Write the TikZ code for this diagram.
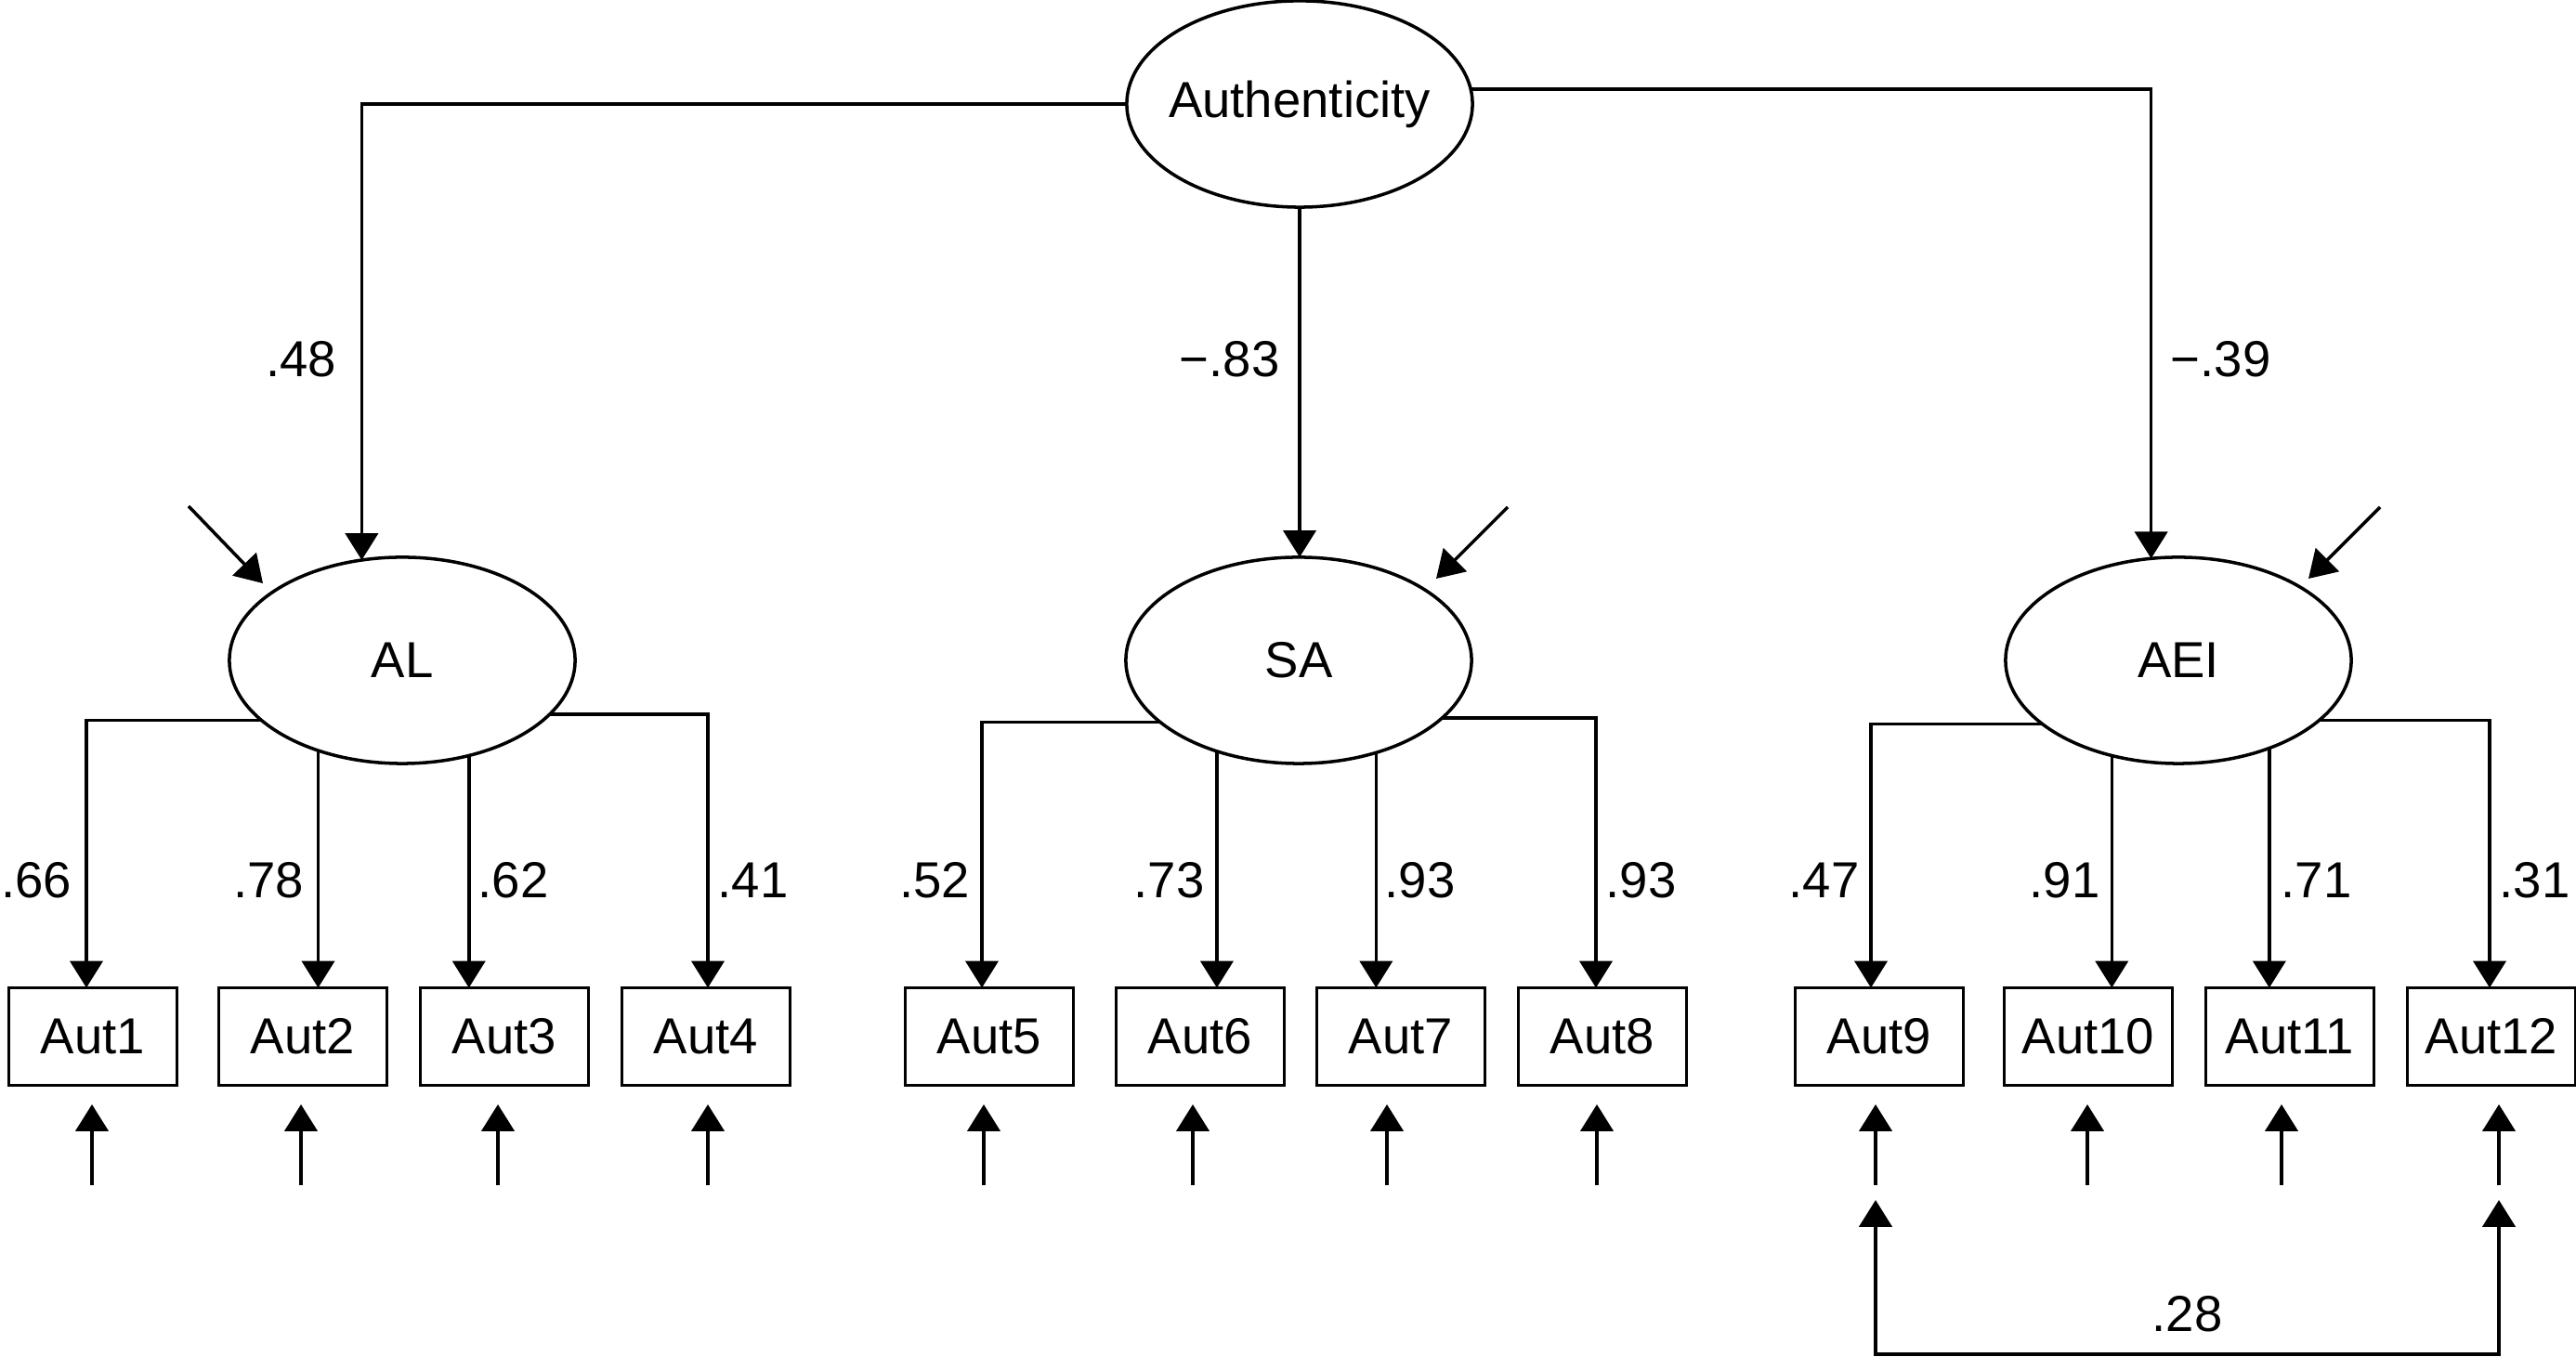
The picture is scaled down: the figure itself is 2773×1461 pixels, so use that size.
\documentclass[tikz,border=0pt]{standalone}
\usepackage{fontspec}
\setmainfont{Liberation Sans}
\usetikzlibrary{shapes.geometric,arrows.meta,calc}

\tikzset{
  latent/.style={ellipse, draw, line width=1pt, minimum width=3.72cm, minimum height=2.22cm, inner sep=0pt, inner xsep=-0.4cm, outer sep=0pt},
  obs/.style={rectangle, draw, line width=1pt, minimum width=1.81cm, minimum height=1.05cm, inner sep=0pt, outer sep=0pt},
  wt/.style={inner sep=0pt},
  arr/.style={line width=1pt, -{Triangle[length=8.2pt,width=10pt]}},
  corr/.style={line width=1pt, {Triangle[length=8.2pt,width=10pt]}-{Triangle[length=8.2pt,width=10pt]}},
}

\begin{document}
\begin{tikzpicture}[x=0.01cm, y=0.01cm, font=\fontsize{15.5}{18}\selectfont]
\useasboundingbox (0,0) rectangle (2773,1461);
\node[latent] (Auth) at (1399,1349) {Authenticity};
\node[latent] (AL) at (433,750) {AL};
\node[latent] (SA) at (1398,750) {SA};
\node[latent] (AEI) at (2345,750) {AEI};
\draw[arr] (Auth.west) -| (AL.112);
\draw[arr] (Auth.south) -- (Auth.south |- SA.north);
\draw[arr] (Auth.5) -| (AEI.105);
\node[wt, anchor=east] (l48) at (363,1074) {.48};
\node[wt, anchor=east] (l83) at (1378,1074) {−.83};
\node[wt, anchor=west] (l39) at (2336,1074) {−.39};

\coordinate (dAL) at ($(AL)+(-230,166)$);
\coordinate (dSA) at ($(SA)+(225,165)$);
\coordinate (dAEI) at ($(AEI)+(217,165)$);
\draw[arr] (dAL) -- ($(AL)+(-150,83)$);
\draw[arr] (dSA) -- ($(SA)+(148,88)$);
\draw[arr] (dAEI) -- ($(AEI)+(140,88)$);

\node[obs] (Aut1) at (100,345) {Aut1};
\node[obs] (Aut2) at (326,345) {Aut2};
\node[obs] (Aut3) at (543,345) {Aut3};
\node[obs] (Aut4) at (760,345) {Aut4};
\draw[arr] (AL.203) -| ($(Aut1.north)+(-7,0)$);
\draw[arr] (AL.227) -- (AL.227 |- Aut2.north);
\draw[arr] (AL.305) -- (AL.305 |- Aut3.north);
\draw[arr] (AL.340) -| ($(Aut4.north)+(2,0)$);
\node[wt, anchor=east] (l1) at (78,513) {.66};
\node[wt, anchor=east] (l2) at (328,513) {.78};
\node[wt, anchor=west] (l3) at (514,513) {.62};
\node[wt, anchor=west] (l4) at (772,513) {.41};

\node[obs] (Aut5) at (1065,345) {Aut5};
\node[obs] (Aut6) at (1292,345) {Aut6};
\node[obs] (Aut7) at (1508,345) {Aut7};
\node[obs] (Aut8) at (1725,345) {Aut8};
\draw[arr] (SA.204) -| ($(Aut5.north)+(-8,0)$);
\draw[arr] (SA.228) -- (SA.228 |- Aut6.north);
\draw[arr] (SA.310) -- (SA.310 |- Aut7.north);
\draw[arr] (SA.338) -| ($(Aut8.north)+(-7,0)$);
\node[wt, anchor=east] (l5) at (1045,513) {.52};
\node[wt, anchor=east] (l6) at (1297,513) {.73};
\node[wt, anchor=west] (l7) at (1490,513) {.93};
\node[wt, anchor=west] (l8) at (1728,513) {.93};

\node[obs] (Aut9) at (2023,345) {Aut9};
\node[obs] (Aut10) at (2248,345) {Aut10};
\node[obs] (Aut11) at (2465,345) {Aut11};
\node[obs] (Aut12) at (2682,345) {Aut12};
\draw[arr] (AEI.205) -| ($(Aut9.north)+(-9,0)$);
\draw[arr] (AEI.235) -- (AEI.235 |- Aut10.north);
\draw[arr] (AEI.316) -- (AEI.316 |- Aut11.north);
\draw[arr] (AEI.337) -| ($(Aut12.north)+(-2,0)$);
\node[wt, anchor=east] (l9) at (2002,513) {.47};
\node[wt, anchor=east] (l10) at (2261,513) {.91};
\node[wt, anchor=west] (l11) at (2455,513) {.71};
\node[wt, anchor=west] (l12) at (2690,513) {.31};

% error terms
\coordinate (e1) at (99,185);
\coordinate (e2) at (324,185);
\coordinate (e3) at (536,185);
\coordinate (e4) at (762,185);
\coordinate (e5) at (1059,185);
\coordinate (e6) at (1284,185);
\coordinate (e7) at (1493,185);
\coordinate (e8) at (1719,185);
\coordinate (e9) at (2019,185);
\coordinate (e10) at (2247,185);
\coordinate (e11) at (2456,185);
\coordinate (e12) at (2690,185);
\draw[arr, shorten >=0.205cm] (e1) -- (e1 |- Aut1.south);
\draw[arr, shorten >=0.205cm] (e2) -- (e2 |- Aut2.south);
\draw[arr, shorten >=0.205cm] (e3) -- (e3 |- Aut3.south);
\draw[arr, shorten >=0.205cm] (e4) -- (e4 |- Aut4.south);
\draw[arr, shorten >=0.205cm] (e5) -- (e5 |- Aut5.south);
\draw[arr, shorten >=0.205cm] (e6) -- (e6 |- Aut6.south);
\draw[arr, shorten >=0.205cm] (e7) -- (e7 |- Aut7.south);
\draw[arr, shorten >=0.205cm] (e8) -- (e8 |- Aut8.south);
\draw[arr, shorten >=0.205cm] (e9) -- (e9 |- Aut9.south);
\draw[arr, shorten >=0.205cm] (e10) -- (e10 |- Aut10.south);
\draw[arr, shorten >=0.205cm] (e11) -- (e11 |- Aut11.south);
\draw[arr, shorten >=0.205cm] (e12) -- (e12 |- Aut12.south);

% correlated errors
\coordinate (k9) at ($(e9)+(0,-16)$);
\coordinate (k12) at ($(e12)+(0,-16)$);
\draw[corr] (k9) -- ++(0,-166) -| node[wt, pos=0.25, above=0.22cm] (l28) {.28} (k12);

\end{tikzpicture}
\end{document}
